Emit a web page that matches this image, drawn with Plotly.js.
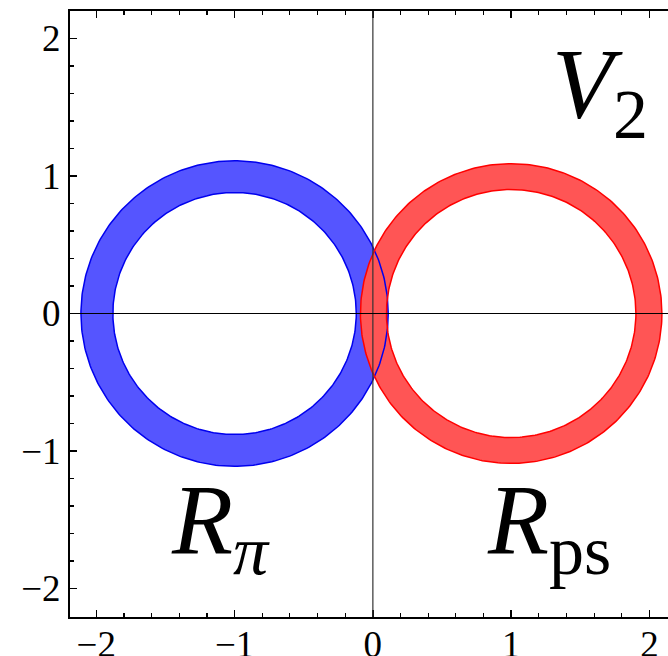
<!DOCTYPE html>
<html><head><meta charset="utf-8">
<script src="https://cdn.plot.ly/plotly-3.0.1.min.js"></script>
<style>body{margin:0;background:#fff}</style>
</head><body>
<div id="plot" style="width:668px;height:656px"></div>
<script>
// Region data: centre (x, y), inner and outer radii
const regionNames = ["R_pi", "R_ps"];
const centerX = [-1.0, 1.0];
const centerY = [0.0, 0.0];
const innerR = [0.880, 0.902];
const outerR = [1.111, 1.090];
const fillColors = ["#5555ff", "#ff5555"];
const lineColors = ["#0000ee", "#ff0000"];
// labels
const labelText = ["<i>V</i><sub>2</sub>", "<i>R</i><sub><i>π</i></sub>", "<i>R</i><sub>ps</sub>"];
const labelX = [1.64, -1.10, 1.27];
const labelY = [1.62, -1.55, -1.55];
const tickVals = [-2, -1, 0, 1, 2];

const N = 360;
function circle(cx, cy, r, rev) {
  const xs = [], ys = [];
  for (let i = 0; i <= N; i++) {
    let t = 2 * Math.PI * i / N;
    if (rev) t = -t;
    xs.push(cx + r * Math.cos(t));
    ys.push(cy + r * Math.sin(t));
  }
  return [xs, ys];
}
const traces = [];
for (let k = 0; k < 2; k++) {
  const o = circle(centerX[k], centerY[k], outerR[k], false);
  const inn = circle(centerX[k], centerY[k], innerR[k], true);
  traces.push({x: o[0].concat(inn[0]), y: o[1].concat(inn[1]), mode: 'lines', fill: 'toself',
    fillcolor: fillColors[k], line: {width: 0, color: fillColors[k]}, hoverinfo: 'skip', name: regionNames[k]});
}
for (let k = 0; k < 2; k++) {
  for (const r of [innerR[k], outerR[k]]) {
    const c = circle(centerX[k], centerY[k], r, false);
    traces.push({x: c[0], y: c[1], mode: 'lines', line: {width: 1.5, color: lineColors[k]}, hoverinfo: 'skip'});
  }
}
const FAM = 'Liberation Serif';
const layout = {
  width: 668, height: 656,
  margin: {l: 70, r: 0, t: 11, b: 39, pad: 0},
  showlegend: false,
  paper_bgcolor: '#fff', plot_bgcolor: '#fff',
  font: {family: FAM, color: '#000', size: 34},
  xaxis: {range: [-2.19, 2.134], tickvals: tickVals, ticks: 'inside', ticklen: 7, tickwidth: 1.5, tickcolor: '#000',
    showline: true, linewidth: 2, linecolor: '#000', mirror: 'ticks', showgrid: false, zeroline: false,
    ticklabelstandoff: -6,
    minor: {dtick: 0.2, tick0: 0, ticks: 'inside', ticklen: 4, tickwidth: 1.2, tickcolor: '#000', showgrid: false},
    tickfont: {family: FAM, size: 37, color: '#000'}, fixedrange: true},
  yaxis: {range: [-2.207, 2.2], tickvals: tickVals, ticks: 'inside', ticklen: 7, tickwidth: 1.5, tickcolor: '#000',
    showline: true, linewidth: 2, linecolor: '#000', mirror: false, showgrid: false, zeroline: false,
    minor: {dtick: 0.2, tick0: 0, ticks: 'inside', ticklen: 4, tickwidth: 1.2, tickcolor: '#000', showgrid: false},
    tickfont: {family: FAM, size: 37, color: '#000'}, fixedrange: true},
  shapes: [
    {type: 'line', xref: 'x', yref: 'paper', x0: 0, x1: 0, y0: 0, y1: 1, layer: 'above', line: {color: '#333', width: 1.2}},
    {type: 'line', xref: 'paper', yref: 'y', x0: 0, x1: 1, y0: 0, y1: 0, layer: 'above', line: {color: '#000', width: 1.2}}
  ],
  annotations: labelText.map((t, i) => ({text: t, x: labelX[i], y: labelY[i], xref: 'x', yref: 'y',
    showarrow: false, xanchor: 'center', yanchor: 'middle', font: {family: FAM, size: 100, color: '#000'}}))
};
Plotly.newPlot('plot', traces, layout, {staticPlot: true, displayModeBar: false});
</script>
</body></html>
